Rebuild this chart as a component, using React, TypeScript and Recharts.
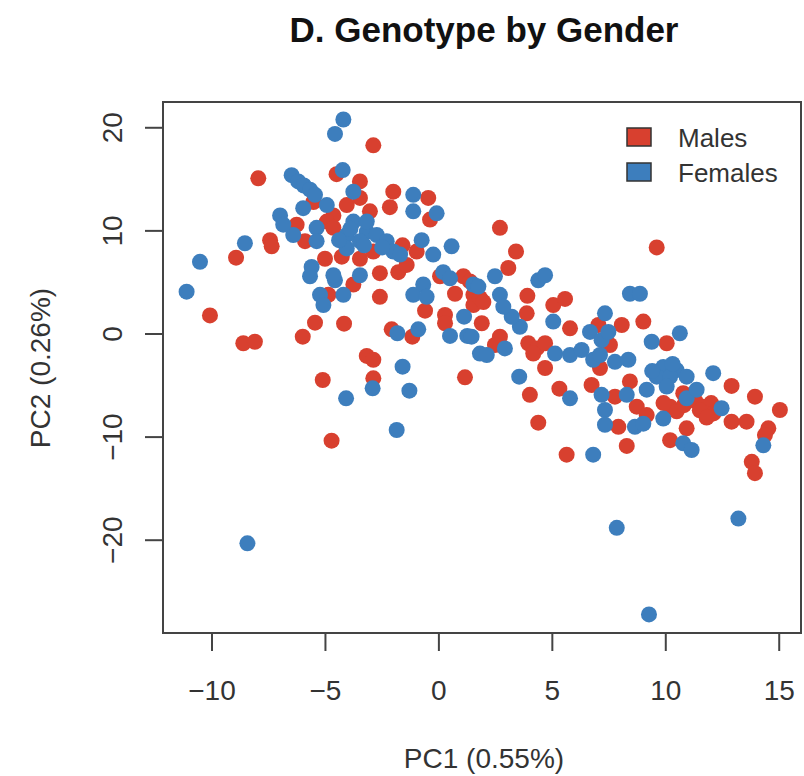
import React from 'react';
import { ScatterChart, Scatter, XAxis, YAxis, ReferenceArea, Legend } from 'recharts';

const RED = '#d8402f';
const BLUE = '#3d7ebd';
const FONT = '"Liberation Sans", Arial, Helvetica, sans-serif';

const xTicks = [-10, -5, 0, 5, 10, 15];
const yTicks = [-20, -10, 0, 10, 20];
const legendOrder = ['Males', 'Females'];

// PC1 / PC2 scores
const maleX = [
  -2.89, -7.96, -4.51, -3.48, -2.01, -2.16, -0.47, -0.39, -3.04, -5.53, -4.65, -4.06, -3.48,
  -7.44, -7.37, -8.94, -6.27, -5.9, -4.94, -4.65, -5.02, -4.28, -3.48, -2.89, -2.6, -1.79,
  -1.42, -0.98, -1.6, -4.87, -2.6, -3.77, 0.05, 1.08, 0.71, 1.52, -10.09,
  -8.62, -8.11, -6.0, -5.46, -4.18, -5.12, -4.73, -3.18, -2.89, -2.89, -2.08, -1.17, -0.61,
  0.27, 0.27, 1.15, 1.52,
  2.69, 3.4, 3.06, 9.6, 3.9, 5.04, 5.56, 1.37, 1.81, 1.96,
  3.87, 1.89, 2.69, 2.47, 3.94, 4.31, 4.68, 4.16, 4.68, 4.01, 4.38, 5.31, 5.78, 7.03, 8.06,
  9.01, 7.54, 10.04, 6.73, 7.1, 7.76, 8.42, 7.91, 8.28, 5.63, 8.72, 9.16, 10.19, 10.48,
  10.92, 10.19, 11.3, 11.65, 12.0, 12.1, 11.5, 11.8, 12.9, 13.93, 15.03, 12.9, 13.56, 14.52,
  14.37, 13.79, 13.93, 10.77, 9.9, 10.8,
];
const maleY = [
  18.3, 15.1, 15.5, 14.8, 13.8, 12.3, 13.2, 11.1, 11.9, 12.8, 11.5, 12.5, 13.2,
  9.1, 8.5, 7.4, 10.6, 9.0, 10.9, 10.3, 7.3, 7.5, 7.3, 8.0, 5.9, 6.0,
  6.7, 8.0, 8.6, 3.8, 3.6, 4.8, 5.6, 5.6, 3.9, 3.8, 1.8,
  -0.9, -0.75, -0.26, 1.1, 1.0, -4.46, -10.35, -2.13, -2.5, -4.3, 0.45, -0.26, 2.26,
  1.84, 1.04, -4.2, 2.8,
  10.3, 8.0, 6.4, 8.4, 3.7, 2.8, 3.4, 5.1, 3.5, 3.1,
  2.0, 1.04, -0.26, -1.07, -0.9, -1.4, -0.9, -1.9, -3.3, -5.9, -8.6, -5.3, 0.55, 0.87, 0.87,
  1.2, -1.07, -0.9, -4.95, -3.3, -6.08, -4.6, -9.0, -10.86, -11.7, -7.05, -7.86, -7.05, -7.5,
  -9.15, -10.3, -6.5, -7.05, -6.7, -7.7, -7.4, -8.1, -5.04, -6.08, -7.37, -8.5, -8.5, -9.15,
  -9.8, -12.4, -13.5, -5.75, -6.7, -6.9,
];

const femaleX = [
  -4.21, -4.58, -4.24, -6.49, -6.2, -5.95, -5.68, -5.46, -3.77, -1.13, -1.13, -0.1, -8.55,
  -10.53, -11.12, 0.56, -0.76, -0.25, 0.19, 0.49, -5.61, -5.68, -4.58, -4.21, -5.24, -5.09,
  -1.13, -0.69, -0.54, 1.52,
  -7.0, -6.42, -6.86, -5.98, -4.94, -5.39, -3.77, -3.18, -2.74, -3.48, -2.3, -2.01, -1.71,
  -4.06, -4.06, -3.18, -5.39, -4.65, -3.48, -3.9, -3.3, -2.5, -4.4,
  -1.83, -0.91, -1.6, -2.92, -1.3, -4.09, -1.86, -8.44, 0.49, 1.25, 1.11, 1.81,
  4.38, 4.68, 2.47, 1.74, 2.69, 8.42, 8.86, 7.32,
  5.04, 6.66, 7.17, 7.47, 10.62, 9.38, 2.11, 2.91, 3.57, 3.21, 2.84, 5.12, 5.78, 6.29, 6.8,
  7.1, 7.76, 8.35, 3.54, 5.78, 7.17, 7.32, 7.32, 8.64, 9.01, 8.28, 9.16, 9.89, 10.48, 10.92,
  9.6, 10.19, 10.04, 9.89, 10.92, 11.36, 12.09, 12.46, 10.77, 11.14, 6.8, 14.3, 7.84, 13.2,
  9.26, 1.44, 10.3, 9.4,
];
const femaleY = [
  20.8, 19.4, 15.9, 15.4, 14.8, 14.4, 14.0, 13.5, 13.8, 13.5, 11.9, 11.7, 8.8,
  7.0, 4.1, 8.5, 9.1, 7.7, 6.0, 5.4, 6.5, 5.6, 5.2, 3.8, 3.8, 2.8,
  3.8, 4.8, 3.6, 4.8,
  11.5, 9.6, 10.6, 12.2, 12.5, 10.3, 10.9, 9.9, 9.6, 9.0, 9.0, 8.0, 7.7,
  9.6, 8.3, 10.9, 9.0, 5.7, 5.7, 10.2, 8.6, 8.4, 9.1,
  0.07, 0.45, -3.17, -5.27, -5.5, -6.24, -9.31, -20.3, -0.19, -0.19, 1.68, -1.9,
  5.2, 5.7, 5.6, 4.6, 3.8, 3.9, 3.9, 2.0,
  1.2, 0.2, -0.6, 0.2, 0.07, -0.75, -2.04, -1.4, 0.7, 1.68, 2.65, -1.9, -2.04, -1.55, -2.5,
  -2.04, -2.7, -2.5, -4.14, -6.24, -5.9, -7.37, -8.8, -9.0, -8.7, -5.9, -5.4, -3.2, -3.5, -4.14,
  -4.14, -4.14, -5.1, -8.2, -6.24, -5.4, -3.8, -7.2, -10.6, -11.25, -11.7, -10.8, -18.8, -17.9,
  -27.2, -0.26, -2.9, -3.6,
];

const males = maleX.map((x, i) => ({ x, y: maleY[i] }));
const females = femaleX.map((x, i) => ({ x, y: femaleY[i] }));

const fmt = (v: number) => (v < 0 ? '\u2212' + Math.abs(v) : String(v));

const XTick = (props: any) => (
  <text x={props.x} y={700} textAnchor="middle" fontSize={28} fill="#333" fontFamily={FONT}>
    {fmt(props.payload.value)}
  </text>
);

const YTick = (props: any) => (
  <text
    x={122}
    y={props.y}
    transform={`rotate(-90 122 ${props.y})`}
    textAnchor="middle"
    fontSize={28}
    fill="#333"
    fontFamily={FONT}
  >
    {fmt(props.payload.value)}
  </text>
);

const XLabel = () => (
  <text x={484} y={768} textAnchor="middle" fontSize={28} fill="#333" fontFamily={FONT}>
    PC1 (0.55%)
  </text>
);

const YLabel = () => (
  <text x={50} y={368} transform="rotate(-90 50 368)" textAnchor="middle" fontSize={28} fill="#333" fontFamily={FONT}>
    PC2 (0.26%)
  </text>
);

const dot = (color: string) => (p: any) => <circle cx={p.cx} cy={p.cy} r={8} fill={color} />;

const renderLegend = (props: any) => {
  const items = legendOrder
    .map((name) => (props.payload || []).find((p: any) => p.value === name))
    .filter(Boolean);
  return (
    <svg width={184} height={72}>
      {items.map((item: any, i: number) => (
        <g key={item.value}>
          <rect x={7} y={8 + i * 35} width={24} height={18} fill={item.color} stroke="#333" strokeWidth={1.5} />
          <text x={58} y={27 + i * 35} fontSize={26} fill="#333" fontFamily={FONT}>
            {item.value}
          </text>
        </g>
      ))}
    </svg>
  );
};

export default function App() {
  return (
    <div style={{ position: 'absolute', left: 0, top: 0, width: 804, height: 776, background: '#fff' }}>
      <ScatterChart width={804} height={776} margin={{ top: 102, right: 3, bottom: 0, left: 0 }}>
        <XAxis
          dataKey="x"
          type="number"
          domain={[-12.16, 15.96]}
          ticks={xTicks}
          interval={0}
          allowDataOverflow
          height={143}
          tickSize={18}
          axisLine={false}
          tickLine={{ stroke: '#444', strokeWidth: 2 }}
          tick={<XTick />}
          label={<XLabel />}
        />
        <YAxis
          dataKey="y"
          type="number"
          domain={[-29, 22.5]}
          ticks={yTicks}
          interval={0}
          allowDataOverflow
          width={163}
          tickSize={18}
          axisLine={false}
          tickLine={{ stroke: '#444', strokeWidth: 2 }}
          tick={<YTick />}
          label={<YLabel />}
        />
        <ReferenceArea
          x1={-12.16}
          x2={15.96}
          y1={-29}
          y2={22.5}
          fill="none"
          stroke="#444"
          strokeWidth={2}
          ifOverflow="visible"
        />
        <Scatter name="Males" data={males} fill={RED} shape={dot(RED)} isAnimationActive={false} />
        <Scatter name="Females" data={females} fill={BLUE} shape={dot(BLUE)} isAnimationActive={false} />
        <Legend
          layout="horizontal"
          verticalAlign="middle"
          align="center"
          content={renderLegend}
          wrapperStyle={{ left: 620, top: 120, width: 184, height: 72 }}
        />
      </ScatterChart>
      <svg width={804} height={60} style={{ position: 'absolute', left: 0, top: 0 }}>
        <text x={484} y={42} textAnchor="middle" fontSize={35} fontWeight="bold" fill="#111" fontFamily={FONT}>
          D. Genotype by Gender
        </text>
      </svg>
    </div>
  );
}
